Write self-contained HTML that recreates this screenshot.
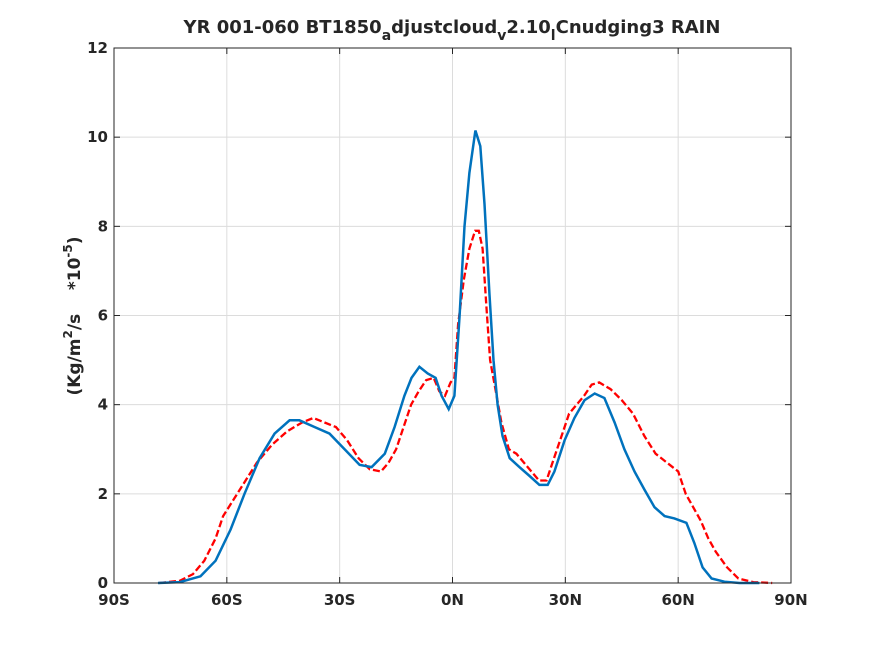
<!DOCTYPE html>
<html><head><meta charset="utf-8"><style>
html,body{margin:0;padding:0;background:#fff;}
svg text{font-family:"DejaVu Sans","Liberation Sans",sans-serif;font-weight:bold;fill:#262626;}
</style></head><body>
<svg id="chart" width="875" height="656" xmlns="http://www.w3.org/2000/svg">
<rect width="875" height="656" fill="#fff"/>
<g id="grid"></g>
<g id="series"></g>
<rect x="114" y="48" width="677" height="535" fill="none" stroke="#262626" stroke-width="1"/>
<g id="ticks"></g>
<text x="452" y="33" text-anchor="middle" font-size="18">YR 001-060 BT1850<tspan font-size="14" dy="7">a</tspan><tspan dy="-7">djustcloud</tspan><tspan font-size="14" dy="7">v</tspan><tspan dy="-7">2.10</tspan><tspan font-size="14" dy="7">l</tspan><tspan dy="-7">Cnudging3 RAIN</tspan></text>
<text transform="translate(80,316) rotate(-90)" text-anchor="middle" font-size="17" style="white-space:pre">(Kg/m<tspan font-size="12" dy="-8">2</tspan><tspan dy="8">/s    *10</tspan><tspan font-size="12" dy="-8">-5</tspan><tspan dy="8">)</tspan></text>
</svg>
<script>
const xTickVals=[-90,-60,-30,0,30,60,90];
const xTickLabels=["90S","60S","30S","0N","30N","60N","90N"];
const yTickVals=[0,2,4,6,8,10,12];
const blueLat=[-78.3,-72.5,-67,-63,-59,-55.3,-51.3,-47.3,-43.3,-40.7,-36.7,-32.7,-28.7,-24.7,-21.5,-18,-15.4,-12.8,-10.9,-8.8,-6.6,-4.5,-2.9,-1,0.5,1.9,3.2,4.5,6.1,7.4,8.5,9.8,10.9,12,13.3,15.2,17.8,20.5,23.1,25.3,27.1,29.8,32.4,35.1,37.8,40.4,43.1,45.7,48.4,51,53.7,56.4,59,62.2,64.3,66.5,68.9,72.3,76.3,81.6];
const blueVal=[0,0.02,0.15,0.5,1.2,2.0,2.8,3.35,3.65,3.65,3.5,3.35,3.0,2.65,2.6,2.9,3.5,4.2,4.6,4.85,4.7,4.6,4.2,3.9,4.2,6.0,8.0,9.2,10.15,9.8,8.5,6.5,5.0,4.0,3.3,2.8,2.6,2.4,2.2,2.2,2.5,3.2,3.7,4.1,4.25,4.15,3.6,3.0,2.5,2.1,1.7,1.5,1.45,1.35,0.9,0.35,0.1,0.03,0,0];
const redLat=[-78,-72.5,-69,-66,-63,-61,-58,-55,-52,-48,-44,-40,-37,-34,-31,-28,-25,-22,-19,-17,-15,-13,-11,-9,-7,-5,-3.5,-2,-0.5,0.5,1.5,3,4.5,6,7,8,9,10,11.5,13,15,17,20,23,25,27,29,31,33,35,37,39,42,45,48,51,54,57,60,62,64,66,68,70,73,76,80,85];
const redVal=[0,0.05,0.2,0.5,1.0,1.5,1.9,2.3,2.7,3.1,3.4,3.6,3.7,3.6,3.5,3.2,2.8,2.55,2.5,2.7,3.0,3.5,4.0,4.3,4.55,4.6,4.3,4.2,4.5,4.6,5.8,6.8,7.5,7.9,7.9,7.5,6.2,5.0,4.3,3.6,3.0,2.9,2.6,2.3,2.3,2.8,3.3,3.8,4.0,4.2,4.45,4.5,4.35,4.1,3.8,3.3,2.9,2.7,2.5,2.0,1.7,1.4,1.0,0.7,0.35,0.1,0.02,0];

const X0=114,X1=791,Y0=583,Y1=48;
function xs(lat){return X0+(lat+90)/180*(X1-X0);}
function ys(v){return Y0-v/12*(Y0-Y1);}
const NS="http://www.w3.org/2000/svg";
const grid=document.getElementById('grid'),ticks=document.getElementById('ticks'),series=document.getElementById('series');
function mk(tag,attrs,parent){const e=document.createElementNS(NS,tag);for(const k in attrs)e.setAttribute(k,attrs[k]);parent.appendChild(e);return e;}
xTickVals.forEach((v,i)=>{
  const x=xs(v);
  const g=mk('line',{x1:x,x2:x,y1:Y1,y2:Y0,stroke:'#dcdcdc','stroke-width':1},grid);
  
  
  mk('line',{x1:x,x2:x,y1:Y0,y2:Y0-6,stroke:'#262626'},ticks);
  mk('line',{x1:x,x2:x,y1:Y1,y2:Y1+6,stroke:'#262626'},ticks);
  const t=mk('text',{x:x,y:Y0+22,'text-anchor':'middle','font-size':15},ticks);
  t.textContent=xTickLabels[i];
  
  
});
yTickVals.forEach(v=>{
  const y=ys(v);
  const g=mk('line',{x1:X0,x2:X1,y1:y,y2:y,stroke:'#dcdcdc','stroke-width':1},grid);
  
  
  mk('line',{x1:X0,x2:X0+6,y1:y,y2:y,stroke:'#262626'},ticks);
  mk('line',{x1:X1,x2:X1-6,y1:y,y2:y,stroke:'#262626'},ticks);
  const t=mk('text',{x:X0-6,y:y+5,'text-anchor':'end','font-size':15},ticks);
  t.textContent=String(v);
  
  
});
function pts(la,va){return la.map((l,i)=>xs(l).toFixed(1)+','+ys(va[i]).toFixed(1)).join(' ');}
const red=mk('polyline',{points:pts(redLat,redVal),fill:'none',stroke:'#ff0000','stroke-width':2.3,'stroke-dasharray':'7,3'},series);


const blue=mk('polyline',{points:pts(blueLat,blueVal),fill:'none',stroke:'#0072bd','stroke-width':2.5},series);


</script>
</body></html>
